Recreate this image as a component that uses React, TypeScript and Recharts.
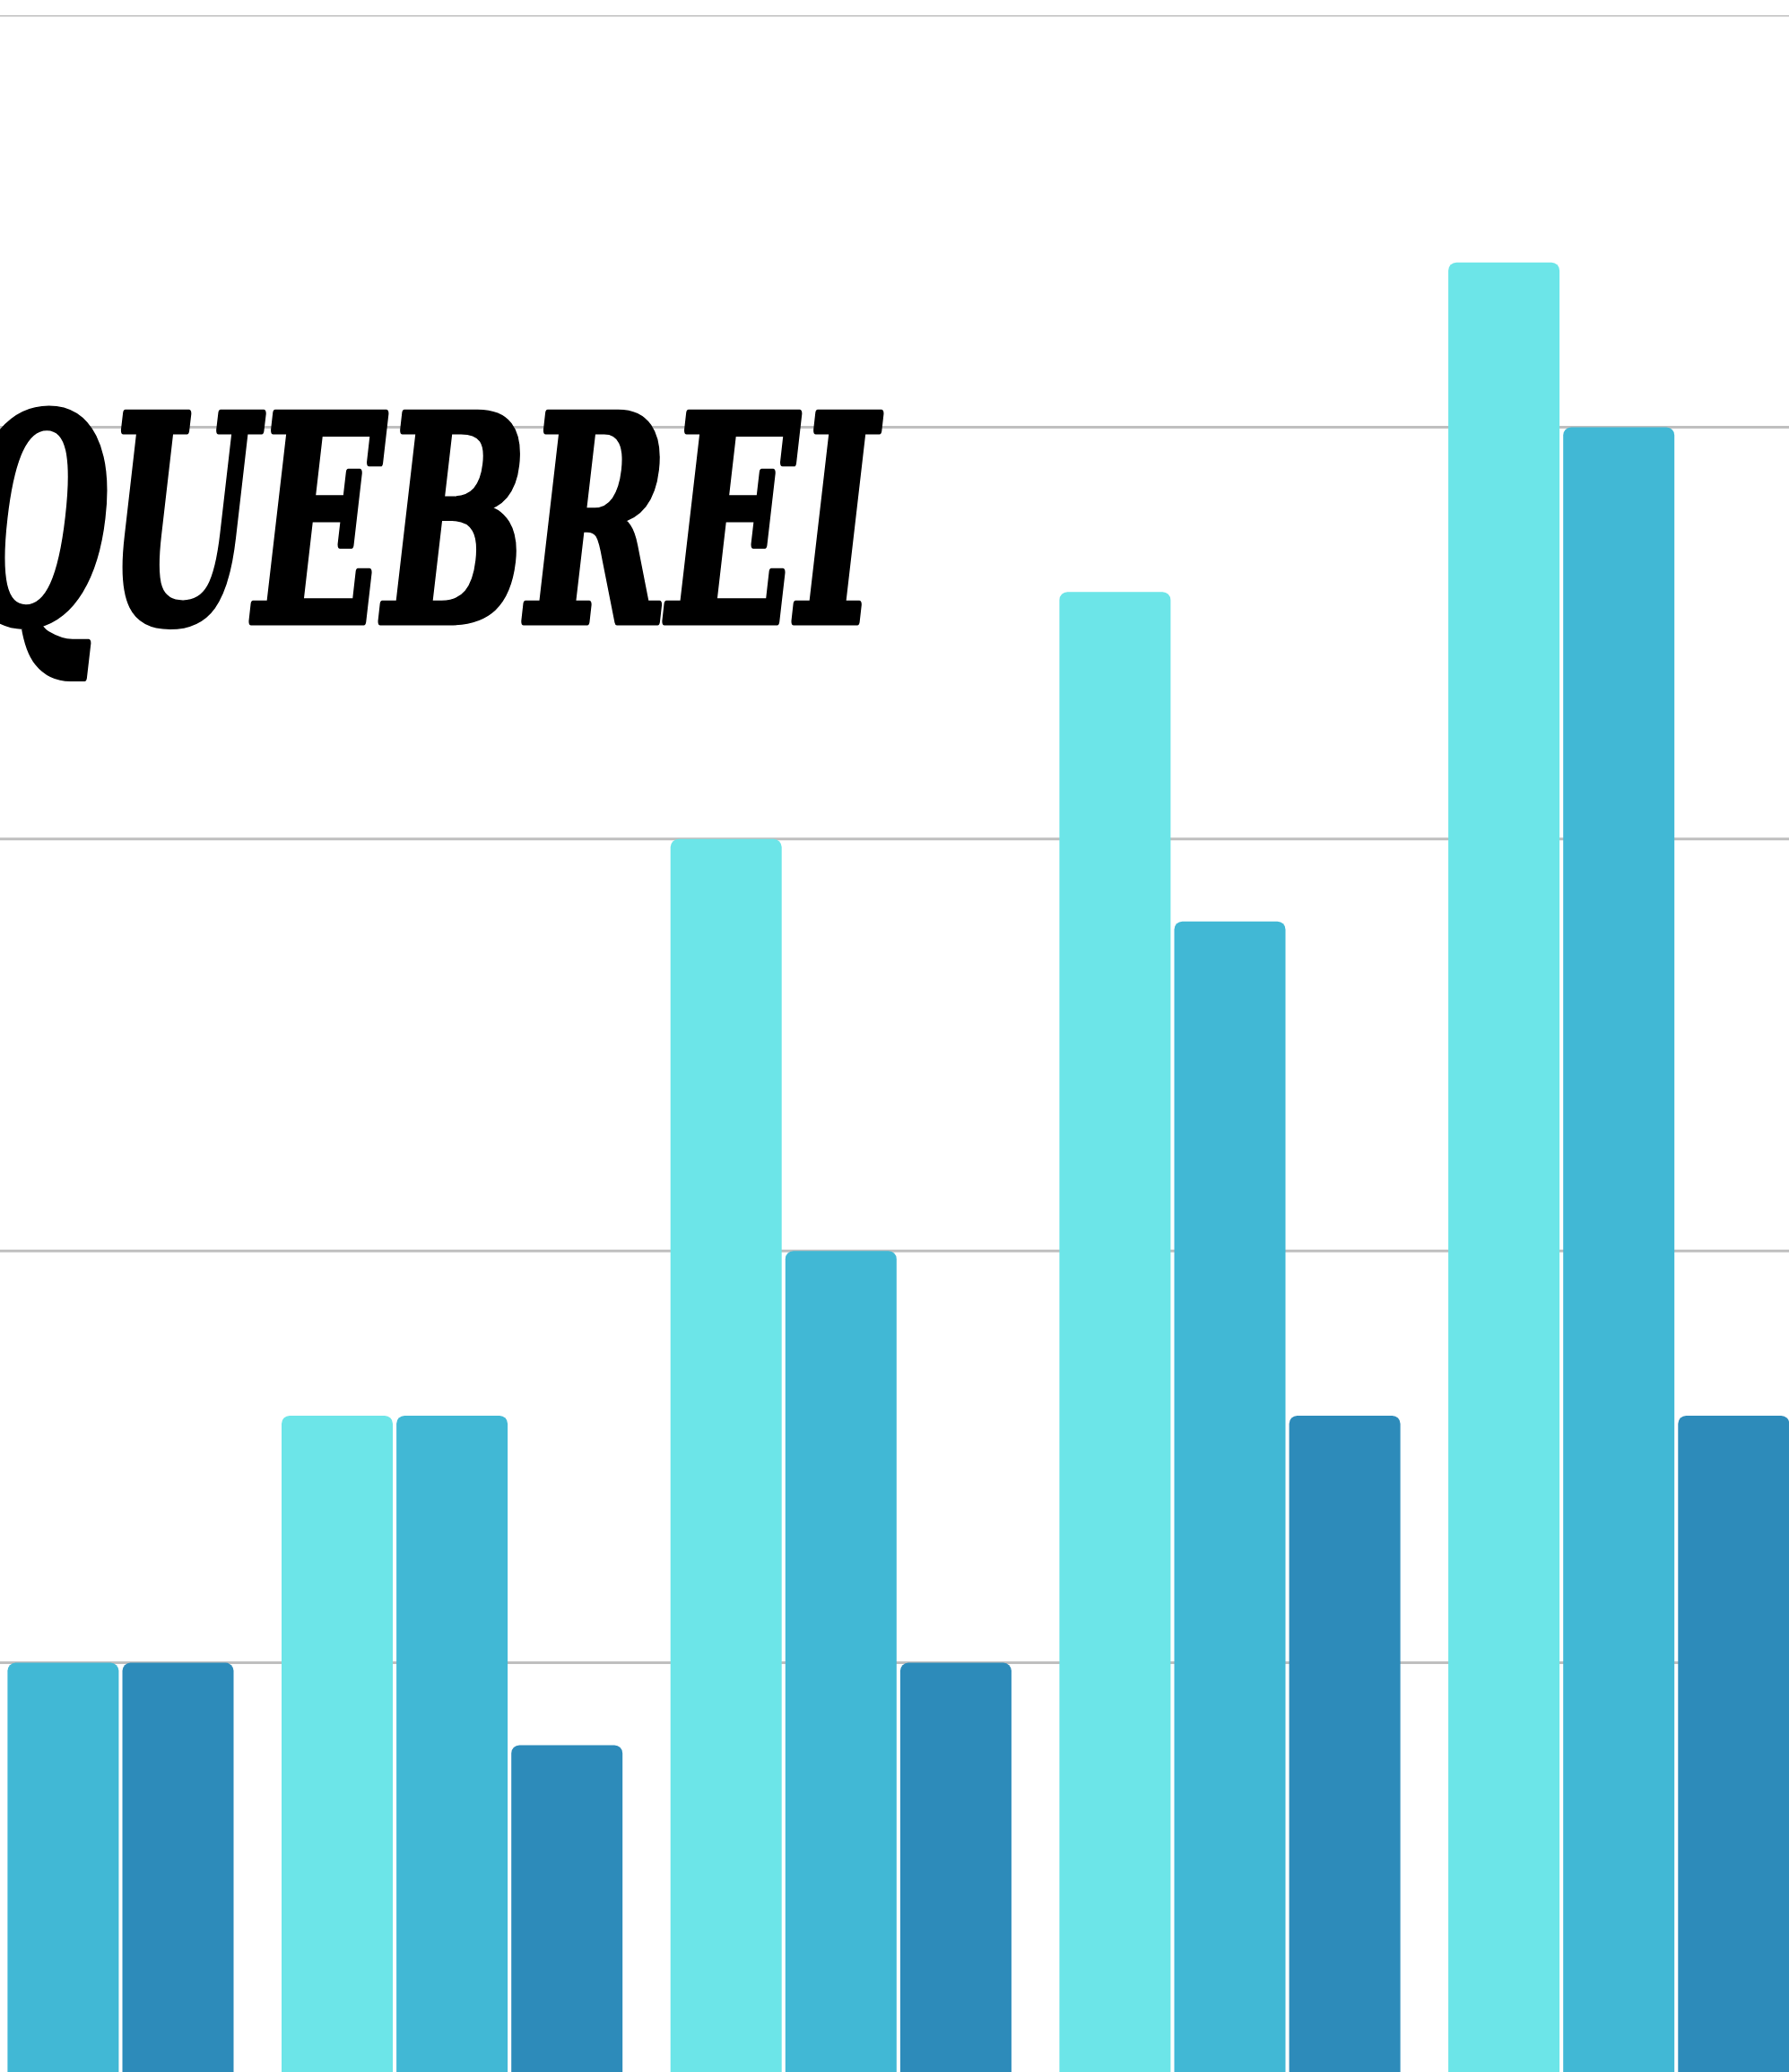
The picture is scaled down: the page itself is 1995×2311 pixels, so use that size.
import {BarChart, Bar, XAxis, YAxis, CartesianGrid} from 'recharts';

const categories = ['1', '2', '3', '4', '5'];
const seriesA = [0, 8, 15, 18, 22];
const seriesB = [5, 8, 10, 14, 20];
const seriesC = [5, 4, 5, 8, 8];
const yTicks = [0, 5, 10, 15, 20, 25];

const data = categories.map((name, i) => ({
	name,
	a: seriesA[i],
	b: seriesB[i],
	c: seriesC[i]
}));

export default function App() {
	return (
		<div style={{position: 'fixed', left: 0, top: 0, width: 1995, height: 2311, overflow: 'hidden', background: '#fff'}}>
			<div style={{position: 'absolute', left: -145.85, top: 16.5}}>
				<BarChart
					width={2168.5}
					height={2297}
					data={data}
					margin={{top: 0, right: 0, bottom: 0, left: 0}}
					barCategoryGap={26.3}
					barGap={4.1}
				>
					<CartesianGrid vertical={false} stroke="#bfbfbf" strokeWidth={3} />
					<XAxis dataKey="name" hide />
					<YAxis hide domain={[0, 25]} ticks={yTicks} />
					<Bar dataKey="a" fill="#6ce5e8" radius={[9, 9, 0, 0]} isAnimationActive={false} />
					<Bar dataKey="b" fill="#41b8d5" radius={[9, 9, 0, 0]} isAnimationActive={false} />
					<Bar dataKey="c" fill="#2d8bba" radius={[9, 9, 0, 0]} isAnimationActive={false} />
				</BarChart>
			</div>
			<svg width={1995} height={2311} style={{position: 'absolute', left: 0, top: 0, pointerEvents: 'none'}}>
				<text
					x={-45}
					y={693}
					textLength={1023}
					lengthAdjust="spacingAndGlyphs"
					fontFamily="'DejaVu Serif', serif"
					fontWeight="bold"
					fontStyle="italic"
					fontSize={318}
					fill="#000"
					stroke="#000"
					strokeWidth={9}
					strokeLinejoin="round"
				>
					QUEBREI
				</text>
			</svg>
		</div>
	);
}
